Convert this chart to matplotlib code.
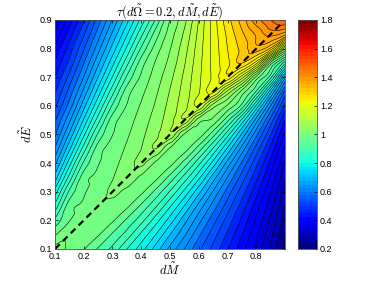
import numpy as np
import matplotlib
matplotlib.use('Agg')
import matplotlib.pyplot as plt
import matplotlib.tri as mtri
from matplotlib import colors, cm

# grid (dM across, dE up)
dM = [0.10, 0.15, 0.20, 0.25, 0.30, 0.35, 0.40, 0.45, 0.50,
      0.55, 0.60, 0.65, 0.70, 0.75, 0.80, 0.85, 0.90]
dE = [0.10, 0.15, 0.20, 0.25, 0.30, 0.35, 0.40, 0.45, 0.50,
      0.55, 0.60, 0.65, 0.70, 0.75, 0.80, 0.85, 0.90]

# tau values, one row per dE (bottom to top)
tau = [
    [1.010, 0.995, 0.970, 0.932, 0.895, 0.840, 0.790, 0.730, 0.670, 0.615, 0.560, 0.510, 0.460, 0.405, 0.350, 0.290, 0.220],
    [0.965, 0.995, 0.985, 0.971, 0.931, 0.890, 0.832, 0.776, 0.712, 0.653, 0.591, 0.535, 0.482, 0.425, 0.367, 0.304, 0.232],
    [0.911, 0.966, 0.990, 0.988, 0.972, 0.930, 0.884, 0.823, 0.761, 0.692, 0.628, 0.565, 0.507, 0.449, 0.386, 0.321, 0.246],
    [0.850, 0.953, 0.974, 0.995, 0.990, 0.974, 0.929, 0.877, 0.812, 0.743, 0.669, 0.602, 0.536, 0.475, 0.408, 0.340, 0.262],
    [0.790, 0.910, 0.963, 0.984, 1.005, 0.992, 0.975, 0.927, 0.869, 0.800, 0.722, 0.645, 0.571, 0.503, 0.435, 0.361, 0.281],
    [0.725, 0.852, 0.953, 0.975, 0.998, 1.020, 0.993, 0.977, 0.925, 0.860, 0.785, 0.697, 0.615, 0.538, 0.465, 0.385, 0.301],
    [0.670, 0.794, 0.910, 0.965, 0.989, 1.014, 1.040, 0.994, 0.979, 0.923, 0.849, 0.764, 0.668, 0.580, 0.498, 0.414, 0.324],
    [0.620, 0.737, 0.855, 0.952, 0.979, 1.005, 1.032, 1.064, 0.995, 0.982, 0.920, 0.836, 0.738, 0.635, 0.539, 0.449, 0.351],
    [0.580, 0.686, 0.800, 0.910, 0.967, 0.995, 1.024, 1.055, 1.090, 0.996, 0.985, 0.917, 0.820, 0.706, 0.593, 0.490, 0.383],
    [0.547, 0.640, 0.748, 0.857, 0.952, 0.984, 1.015, 1.046, 1.083, 1.123, 1.014, 0.991, 0.913, 0.800, 0.665, 0.541, 0.424],
    [0.513, 0.598, 0.700, 0.805, 0.909, 0.970, 1.004, 1.036, 1.075, 1.117, 1.160, 1.046, 0.995, 0.925, 0.770, 0.615, 0.477],
    [0.483, 0.564, 0.657, 0.757, 0.859, 0.952, 0.991, 1.026, 1.066, 1.110, 1.157, 1.200, 1.087, 0.990, 0.900, 0.726, 0.546],
    [0.456, 0.531, 0.617, 0.713, 0.810, 0.909, 0.974, 1.015, 1.055, 1.103, 1.153, 1.199, 1.245, 1.142, 0.990, 0.884, 0.664],
    [0.428, 0.498, 0.582, 0.673, 0.765, 0.861, 0.952, 1.003, 1.042, 1.093, 1.149, 1.201, 1.250, 1.290, 1.205, 0.990, 0.854],
    [0.400, 0.471, 0.549, 0.635, 0.724, 0.814, 0.909, 0.982, 1.030, 1.083, 1.144, 1.202, 1.256, 1.298, 1.340, 1.279, 1.073],
    [0.365, 0.440, 0.516, 0.600, 0.686, 0.772, 0.863, 0.951, 1.016, 1.070, 1.137, 1.204, 1.263, 1.313, 1.357, 1.395, 1.361],
    [0.330, 0.408, 0.485, 0.567, 0.650, 0.733, 0.818, 0.908, 1.000, 1.054, 1.129, 1.206, 1.275, 1.334, 1.402, 1.449, 1.480],
]

# dashed reference line dE = dM
line_m = [0.10, 0.89]
line_e = [0.10, 0.89]

xticks = [0.1, 0.2, 0.3, 0.4, 0.5, 0.6, 0.7, 0.8]
yticks = [0.1, 0.2, 0.3, 0.4, 0.5, 0.6, 0.7, 0.8, 0.9]
cticks = [0.2, 0.4, 0.6, 0.8, 1.0, 1.2, 1.4, 1.6, 1.8]
clabels = ['0.2', '0.4', '0.6', '0.8', '1', '1.2', '1.4', '1.6', '1.8']

VMIN, VMAX = 0.2, 1.8
levels = np.linspace(VMIN, VMAX, 51)

plt.rcParams['font.family'] = ['Liberation Sans', 'DejaVu Sans']
plt.rcParams['mathtext.fontset'] = 'cm'

cmap = plt.get_cmap('jet', 64)
norm = colors.Normalize(vmin=VMIN, vmax=VMAX)

fig = plt.figure(figsize=(3.74, 2.81), dpi=100)
ax = fig.add_axes([0.147, 0.114, 0.615, 0.815])

# triangulate the grid with cell diagonals along dE = dM so the ridge is kept
X, Y = np.meshgrid(dM, dE)
Z = np.array(tau)
nx, ny = len(dM), len(dE)
tris = []
for j in range(ny - 1):
    for i in range(nx - 1):
        a = j * nx + i
        tris.append([a, a + 1, a + nx + 1])
        tris.append([a, a + nx + 1, a + nx])
tri = mtri.Triangulation(X.ravel(), Y.ravel(), np.array(tris))
interp = mtri.CubicTriInterpolator(tri, Z.ravel(), kind='geom')
refiner = mtri.UniformTriRefiner(tri)
tri_f, z_f = refiner.refine_field(Z.ravel(), triinterpolator=interp, subdiv=3)

ax.tricontourf(tri_f, z_f, levels=levels, cmap=cmap, norm=norm)
ax.tricontour(tri_f, z_f, levels=levels, colors='k', linewidths=0.4)
ax.plot(line_m, line_e, color='k', lw=1.6, dashes=(3, 2))

ax.set_xlim(0.1, 0.8999)
ax.set_ylim(0.1, 0.9)
ax.set_xticks(xticks)
ax.set_yticks(yticks)
ax.set_xticklabels([('%g' % t) for t in xticks])
ax.set_yticklabels([('%g' % t) for t in yticks])
ax.tick_params(direction='in', length=2, width=0.5, labelsize=6.5, pad=2,
               top=True, right=True)
for sp in ax.spines.values():
    sp.set_linewidth(0.6)
    sp.set_color('0.3')

ax.set_title(r'$\tau(d\tilde{\Omega} = 0.2, d\tilde{M}, d\tilde{E})$',
             fontsize=9, pad=3)
ax.set_xlabel(r'$d\tilde{M}$', fontsize=9, labelpad=1)
ax.set_ylabel(r'$d\tilde{E}$', fontsize=9, labelpad=3)

cax = fig.add_axes([0.797, 0.114, 0.051, 0.815])
cb = fig.colorbar(cm.ScalarMappable(norm=norm, cmap=cmap), cax=cax)
cb.set_ticks(cticks)
cb.set_ticklabels(clabels)
cb.ax.tick_params(direction='in', length=2, width=0.5, labelsize=6.5, pad=2)
cb.outline.set_linewidth(0.6)
cb.outline.set_edgecolor('0.3')

fig.savefig('out.png', dpi=100)
